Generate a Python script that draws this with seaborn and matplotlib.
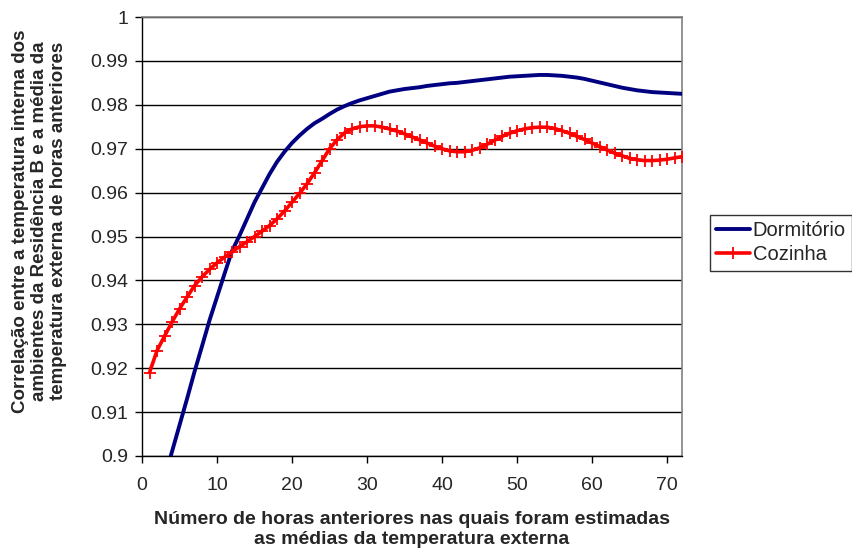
import matplotlib
matplotlib.use("Agg")
import matplotlib.pyplot as plt
import seaborn as sns
import numpy as np
import pandas as pd

hours = list(range(1, 73))
dormitorio = [
    0.8810, 0.8880, 0.8950, 0.9010, 0.9070, 0.9130, 0.9192, 0.9250, 0.9309, 0.9362,
    0.9415, 0.9467, 0.9502, 0.9540, 0.9578, 0.9610, 0.9642, 0.9670, 0.9693, 0.9713,
    0.9730, 0.9745, 0.9758, 0.9768, 0.9779, 0.9789, 0.9797, 0.9804, 0.9810, 0.9815,
    0.9820, 0.9825, 0.9830, 0.9833, 0.9836, 0.9838, 0.9840, 0.9843, 0.9845, 0.9847,
    0.9849, 0.9850, 0.9852, 0.9854, 0.9856, 0.9858, 0.9860, 0.9862, 0.9864, 0.9865,
    0.9866, 0.9867, 0.9868, 0.9868, 0.9867, 0.9866, 0.9864, 0.9862, 0.9859, 0.9855,
    0.9851, 0.9847, 0.9843, 0.9839, 0.9836, 0.9833, 0.9831, 0.9829, 0.9828, 0.9827,
    0.9826, 0.9825,
]
cozinha = [
    0.9190, 0.9240, 0.9273, 0.9305, 0.9335, 0.9362, 0.9388, 0.9408, 0.9425, 0.9440,
    0.9453, 0.9465, 0.9477, 0.9488, 0.9500, 0.9512, 0.9525, 0.9540, 0.9558, 0.9578,
    0.9598, 0.9620, 0.9645, 0.9672, 0.9700, 0.9720, 0.9736, 0.9745, 0.9750, 0.9752,
    0.9752, 0.9749, 0.9745, 0.9740, 0.9734, 0.9727, 0.9720, 0.9713, 0.9706, 0.9700,
    0.9695, 0.9693, 0.9693, 0.9696, 0.9702, 0.9710, 0.9719, 0.9728, 0.9735, 0.9741,
    0.9745, 0.9748, 0.9749, 0.9749, 0.9746, 0.9741, 0.9735, 0.9728, 0.9721, 0.9713,
    0.9705, 0.9697, 0.9690, 0.9684, 0.9678, 0.9675, 0.9673, 0.9673, 0.9674, 0.9676,
    0.9679, 0.9682,
]
series_names = ["Dormitório", "Cozinha"]
x_ticks = [0, 10, 20, 30, 40, 50, 60, 70]
y_ticks = [0.9, 0.91, 0.92, 0.93, 0.94, 0.95, 0.96, 0.97, 0.98, 0.99, 1.0]
y_tick_labels = ["0.9", "0.91", "0.92", "0.93", "0.94", "0.95", "0.96", "0.97", "0.98", "0.99", "1"]
x_label = "Número de horas anteriores nas quais foram estimadas\nas médias da temperatura externa"
y_label = ("Correlação entre a temperatura interna dos\n"
           "ambientes da Residência B e a média da\n"
           "temperatura externa de horas anteriores")

sns.set_style("white")
plt.rcParams["font.family"] = ["Liberation Sans", "DejaVu Sans"]

fig = plt.figure(figsize=(8.52, 5.52), dpi=100)
ax = fig.add_axes([142 / 852, 1 - 456 / 552, (682 - 142) / 852, (456 - 17) / 552])

df = pd.DataFrame({"h": hours, "d": dormitorio, "c": cozinha})

sns.lineplot(data=df, x="h", y="d", ax=ax, color="#000080", linewidth=2.8,
             label=series_names[0], zorder=3)
sns.lineplot(data=df, x="h", y="c", ax=ax, color="#FF0000", linewidth=2.6,
             marker="+", markersize=8.5, markeredgewidth=1.3, markeredgecolor="#FF0000",
             label=series_names[1], zorder=4)

ax.set_xlim(0, 72)
ax.set_ylim(0.9, 1.0)
ax.set_xticks(x_ticks)
ax.set_yticks(y_ticks)
ax.set_yticklabels(y_tick_labels)
ax.tick_params(axis="both", labelsize=14, direction="out", length=5, width=1,
               color="black", left=True, bottom=True)
ax.tick_params(axis="x", pad=10)
ax.tick_params(axis="y", pad=5)
ax.grid(axis="y", color="black", linewidth=1)
ax.grid(axis="x", visible=False)
ax.set_axisbelow(True)

for side in ["left", "bottom"]:
    ax.spines[side].set_color("black")
    ax.spines[side].set_linewidth(1)
for side in ["top", "right"]:
    ax.spines[side].set_visible(True)
    ax.spines[side].set_color("#808080")
    ax.spines[side].set_linewidth(1.2)

ax.set_xlabel(x_label, fontsize=14, fontweight="bold", linespacing=1.2)
ax.xaxis.set_label_coords(0.5, -0.126)
ax.xaxis.label.set_va("top")
ax.set_ylabel(y_label, fontsize=13.5, fontweight="bold", linespacing=1.13)
ax.yaxis.set_label_coords(-0.19, 0.535)
ax.yaxis.label.set_va("center")

leg = ax.legend(loc="upper left", bbox_to_anchor=(710 / 852, 1 - 215 / 552),
                bbox_transform=fig.transFigure, frameon=True, fancybox=False,
                fontsize=14.5, handlelength=1.65, handletextpad=0.15,
                borderpad=0.32, labelspacing=0.25, borderaxespad=0)
leg.get_frame().set_edgecolor("black")
leg.get_frame().set_linewidth(1)

fig.savefig("out.png", dpi=100)
